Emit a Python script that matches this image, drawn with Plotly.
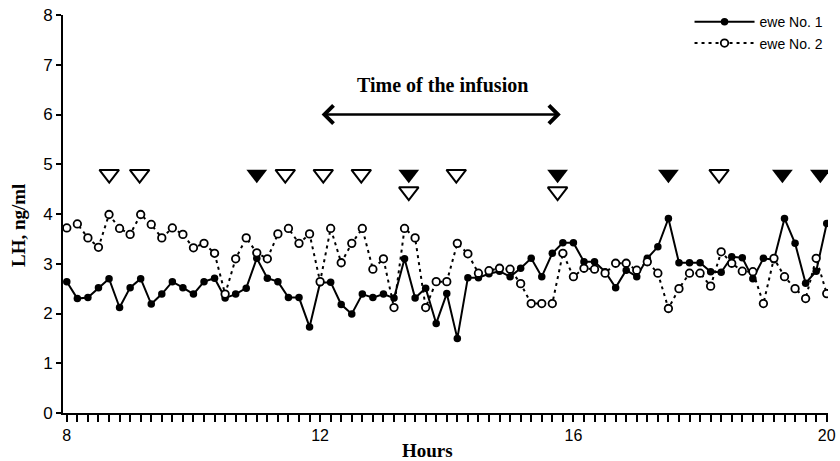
import plotly.graph_objects as go

# Sampling: every 10 minutes from 08:00 to 20:00
start_hour = 8
interval_min = 10
ewe1 = [2.64, 2.30, 2.32, 2.52, 2.70, 2.12, 2.52, 2.70, 2.19, 2.39, 2.64, 2.52,
        2.39, 2.64, 2.71, 2.31, 2.39, 2.51, 3.11, 2.71, 2.64, 2.32, 2.32, 1.73,
        2.62, 2.63, 2.18, 1.99, 2.39, 2.32, 2.39, 2.31, 3.10, 2.31, 2.51, 1.80,
        2.40, 1.50, 2.72, 2.72, 2.80, 2.85, 2.74, 2.91, 3.11, 2.74, 3.21, 3.42,
        3.42, 3.04, 3.04, 2.84, 2.52, 2.87, 2.74, 3.11, 3.34, 3.91, 3.02, 3.02,
        3.02, 2.84, 2.83, 3.14, 3.12, 2.70, 3.11, 3.08, 3.91, 3.41, 2.61, 2.85,
        3.81]
ewe2 = [3.72, 3.80, 3.52, 3.33, 3.99, 3.71, 3.59, 3.99, 3.79, 3.52, 3.72, 3.59,
        3.32, 3.41, 3.21, 2.39, 3.10, 3.52, 3.22, 3.10, 3.60, 3.71, 3.41, 3.60,
        2.64, 3.71, 3.02, 3.41, 3.71, 2.89, 3.10, 2.12, 3.71, 3.52, 2.12, 2.64,
        2.64, 3.41, 3.20, 2.81, 2.86, 2.91, 2.89, 2.60, 2.20, 2.20, 2.20, 3.21,
        2.74, 2.91, 2.89, 2.81, 3.01, 3.01, 2.87, 3.04, 2.81, 2.10, 2.50, 2.81,
        2.81, 2.55, 3.24, 3.01, 2.85, 2.84, 2.20, 3.11, 2.74, 2.50, 2.30, 3.11,
        2.40]
hours = [start_hour + i * interval_min / 60 for i in range(len(ewe1))]

# LH pulse markers (hours, level)
pulse1_hours = [11.0, 13.4, 15.75, 17.5, 19.3, 19.9]
pulse1_level = [4.8, 4.8, 4.8, 4.8, 4.8, 4.8]
pulse2_hours = [8.67, 9.15, 11.45, 12.05, 12.65, 13.4, 14.15, 15.75, 18.3]
pulse2_level = [4.8, 4.8, 4.8, 4.8, 4.8, 4.45, 4.8, 4.45, 4.8]

x_labels = {8: "8", 12: "12", 16: "16", 20: "20"}
infusion_start, infusion_end = 12.0, 15.8

tickvals = hours
ticktext = [x_labels.get(int(round(h)), "") if abs(h - round(h)) < 1e-6 else "" for h in hours]

fig = go.Figure()
fig.add_trace(go.Scatter(
    x=hours, y=ewe1, mode="lines+markers", name="ewe No. 1", legendgroup="a",
    line=dict(color="black", width=2),
    marker=dict(symbol="circle", size=7.5, color="black")))
fig.add_trace(go.Scatter(
    x=hours, y=ewe2, mode="lines+markers", name="ewe No. 2", legendgroup="b",
    line=dict(color="black", width=2, dash="3px,4px"),
    marker=dict(symbol="circle", size=7.5, color="white", line=dict(width=1.8, color="black"))))
fig.add_trace(go.Scatter(
    x=pulse1_hours, y=pulse1_level, mode="markers", showlegend=False,
    marker=dict(symbol="triangle-down", size=18, color="black")))
fig.add_trace(go.Scatter(
    x=pulse2_hours, y=pulse2_level, mode="markers", showlegend=False,
    marker=dict(symbol="triangle-down-open", size=17, color="black", line=dict(width=2))))

fig.add_annotation(x=infusion_end, y=6.0, ax=infusion_start, ay=6.0,
                   xref="x", yref="y", axref="x", ayref="y", text="",
                   showarrow=True, arrowside="end+start", arrowhead=4, startarrowhead=4,
                   arrowsize=1.4, startarrowsize=1.4, arrowwidth=2.5, arrowcolor="black")
fig.add_annotation(x=13.94, y=6.59, xref="x", yref="y", text="<b>Time of the infusion</b>",
                   showarrow=False, xanchor="center",
                   font=dict(family="Liberation Serif", size=20, color="black"))
fig.add_annotation(x=13.7, y=-0.093, xref="x", yref="paper", xanchor="center", yanchor="middle",
                   text="<b>Hours</b>", showarrow=False,
                   font=dict(family="Liberation Serif", size=19, color="black"))
fig.add_annotation(x=-0.059, y=0.472, xref="paper", yref="paper", textangle=-90,
                   xanchor="center", yanchor="middle",
                   text="<b>LH, ng/ml</b>", showarrow=False,
                   font=dict(family="Liberation Serif", size=19, color="black"))

fig.update_layout(
    width=840, height=461,
    margin=dict(l=63, r=12, t=15, b=48, autoexpand=False),
    paper_bgcolor="white", plot_bgcolor="white",
    font=dict(family="Liberation Sans", color="black"),
    showlegend=True,
    legend=dict(x=0.819, y=1.022, xanchor="left", yanchor="top",
                font=dict(family="Liberation Sans", size=14, color="black"),
                bgcolor="rgba(0,0,0,0)", itemwidth=60, tracegroupgap=0),
    xaxis=dict(range=[7.94, 20.02], tickmode="array", tickvals=tickvals, ticktext=ticktext,
               ticks="outside", ticklen=7, tickwidth=1.5, tickcolor="black",
               showline=True, linecolor="black", linewidth=2, showgrid=False, zeroline=False,
               tickfont=dict(family="Liberation Sans", size=16, color="black")),
    yaxis=dict(range=[0, 8], dtick=1, ticks="outside", ticklen=5, tickwidth=1.5, tickcolor="black",
               showline=True, linecolor="black", linewidth=2, showgrid=False, zeroline=False,
               tickfont=dict(family="Liberation Sans", size=17, color="black")),
)

fig.write_html("out.html")
